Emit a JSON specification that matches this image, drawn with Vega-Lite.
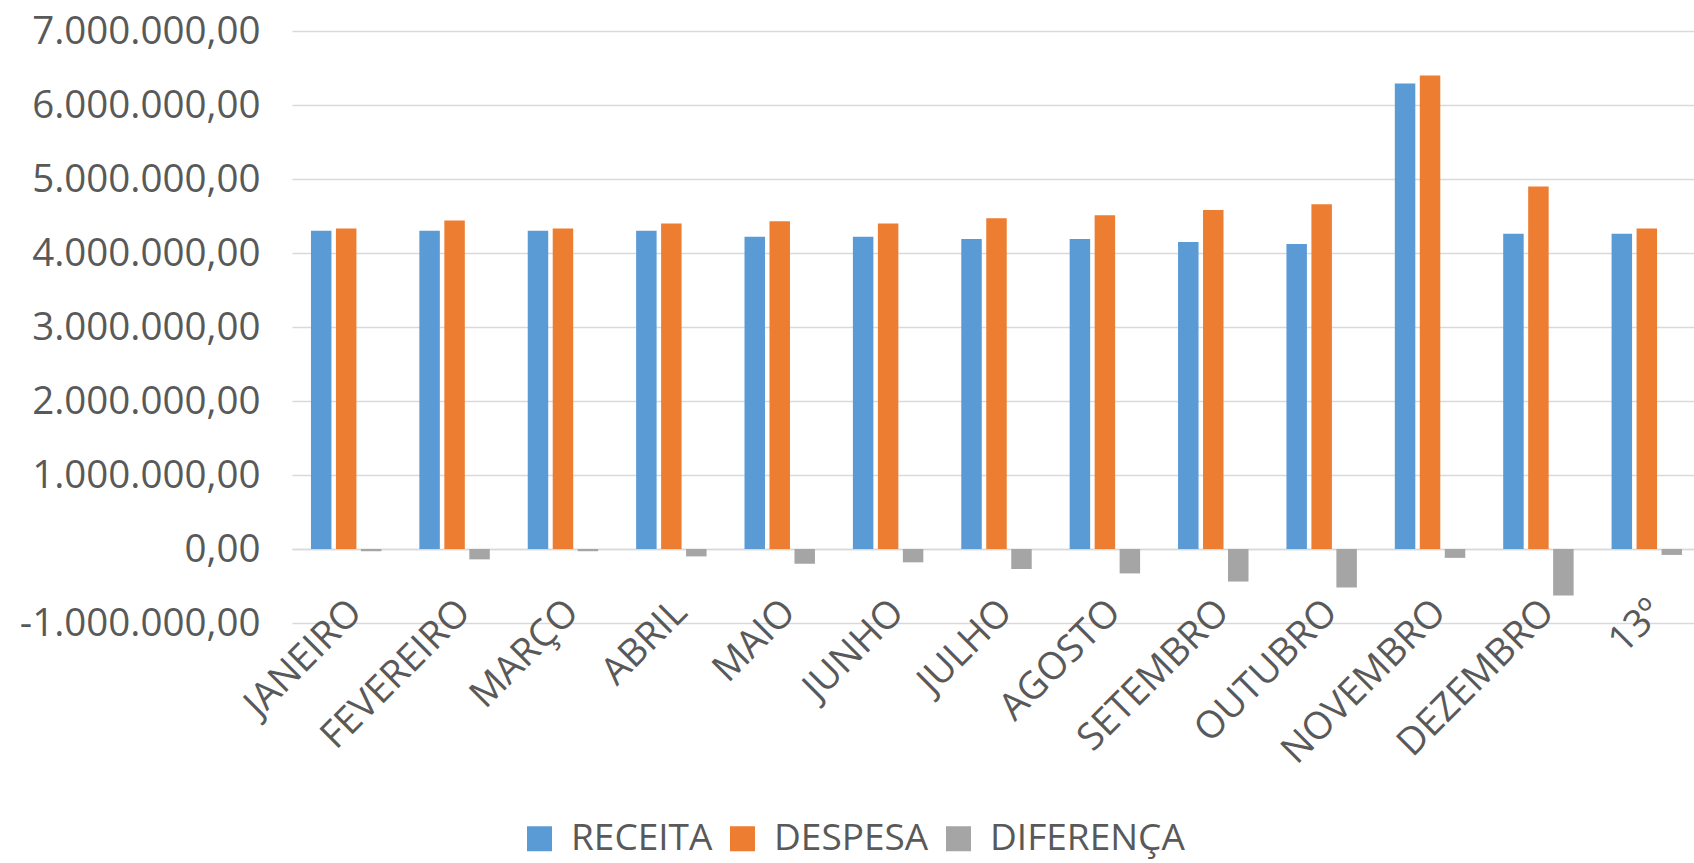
{
  "$schema": "https://vega.github.io/schema/vega-lite/v6.json",
  "autosize": {"type": "none"},
  "width": 1402,
  "height": 592,
  "padding": {"left": 292, "top": 31, "right": 0, "bottom": 240},
  "background": "white",
  "data": {
    "values": [
      {"mes": "JANEIRO", "serie": "RECEITA", "valor": 4300000},
      {"mes": "JANEIRO", "serie": "DESPESA", "valor": 4330000},
      {"mes": "JANEIRO", "serie": "DIFERENÇA", "valor": -30000},
      {"mes": "FEVEREIRO", "serie": "RECEITA", "valor": 4300000},
      {"mes": "FEVEREIRO", "serie": "DESPESA", "valor": 4440000},
      {"mes": "FEVEREIRO", "serie": "DIFERENÇA", "valor": -140000},
      {"mes": "MARÇO", "serie": "RECEITA", "valor": 4300000},
      {"mes": "MARÇO", "serie": "DESPESA", "valor": 4330000},
      {"mes": "MARÇO", "serie": "DIFERENÇA", "valor": -30000},
      {"mes": "ABRIL", "serie": "RECEITA", "valor": 4300000},
      {"mes": "ABRIL", "serie": "DESPESA", "valor": 4400000},
      {"mes": "ABRIL", "serie": "DIFERENÇA", "valor": -100000},
      {"mes": "MAIO", "serie": "RECEITA", "valor": 4220000},
      {"mes": "MAIO", "serie": "DESPESA", "valor": 4430000},
      {"mes": "MAIO", "serie": "DIFERENÇA", "valor": -200000},
      {"mes": "JUNHO", "serie": "RECEITA", "valor": 4220000},
      {"mes": "JUNHO", "serie": "DESPESA", "valor": 4400000},
      {"mes": "JUNHO", "serie": "DIFERENÇA", "valor": -180000},
      {"mes": "JULHO", "serie": "RECEITA", "valor": 4190000},
      {"mes": "JULHO", "serie": "DESPESA", "valor": 4470000},
      {"mes": "JULHO", "serie": "DIFERENÇA", "valor": -270000},
      {"mes": "AGOSTO", "serie": "RECEITA", "valor": 4190000},
      {"mes": "AGOSTO", "serie": "DESPESA", "valor": 4510000},
      {"mes": "AGOSTO", "serie": "DIFERENÇA", "valor": -330000},
      {"mes": "SETEMBRO", "serie": "RECEITA", "valor": 4150000},
      {"mes": "SETEMBRO", "serie": "DESPESA", "valor": 4580000},
      {"mes": "SETEMBRO", "serie": "DIFERENÇA", "valor": -440000},
      {"mes": "OUTUBRO", "serie": "RECEITA", "valor": 4120000},
      {"mes": "OUTUBRO", "serie": "DESPESA", "valor": 4660000},
      {"mes": "OUTUBRO", "serie": "DIFERENÇA", "valor": -520000},
      {"mes": "NOVEMBRO", "serie": "RECEITA", "valor": 6290000},
      {"mes": "NOVEMBRO", "serie": "DESPESA", "valor": 6400000},
      {"mes": "NOVEMBRO", "serie": "DIFERENÇA", "valor": -120000},
      {"mes": "DEZEMBRO", "serie": "RECEITA", "valor": 4260000},
      {"mes": "DEZEMBRO", "serie": "DESPESA", "valor": 4900000},
      {"mes": "DEZEMBRO", "serie": "DIFERENÇA", "valor": -630000},
      {"mes": "13º", "serie": "RECEITA", "valor": 4260000},
      {"mes": "13º", "serie": "DESPESA", "valor": 4330000},
      {"mes": "13º", "serie": "DIFERENÇA", "valor": -80000}
    ]
  },
  "mark": {"type": "bar"},
  "encoding": {
    "x": {
      "field": "mes",
      "type": "nominal",
      "sort": ["JANEIRO", "FEVEREIRO", "MARÇO", "ABRIL", "MAIO", "JUNHO", "JULHO", "AGOSTO", "SETEMBRO", "OUTUBRO", "NOVEMBRO", "DEZEMBRO", "13º"],
      "scale": {"range": [0, 1409], "paddingInner": 0.35, "paddingOuter": 0.175},
      "axis": {
        "title": null,
        "orient": "bottom",
        "offset": -74,
        "domain": true,
        "domainColor": "#d9d9d9",
        "domainWidth": 1.5,
        "ticks": false,
        "tickSize": 0,
        "labelAngle": -45,
        "labelAlign": "right",
        "labelBaseline": "middle",
        "labelPadding": 57,
        "labelOffset": 10,
        "labelFont": "Open Sans",
        "labelFontSize": 38,
        "labelColor": "#595959",
        "labelLimit": 500,
        "labelOverlap": false,
        "grid": false
      }
    },
    "xOffset": {
      "field": "serie",
      "type": "nominal",
      "sort": ["RECEITA", "DESPESA", "DIFERENÇA"],
      "scale": {"paddingInner": 0.18, "paddingOuter": 0}
    },
    "y": {
      "field": "valor",
      "type": "quantitative",
      "scale": {"domain": [-1000000, 7000000], "nice": false, "zero": false},
      "axis": {
        "title": null,
        "values": [-1000000, 0, 1000000, 2000000, 3000000, 4000000, 5000000, 6000000, 7000000],
        "format": ",.2f",
        "domain": false,
        "ticks": false,
        "labelPadding": 32,
        "labelFont": "Open Sans",
        "labelFontSize": 38.5,
        "labelColor": "#595959",
        "labelLimit": 500,
        "grid": true,
        "gridColor": "#d9d9d9",
        "gridWidth": 1.5
      }
    },
    "color": {
      "field": "serie",
      "type": "nominal",
      "sort": ["RECEITA", "DESPESA", "DIFERENÇA"],
      "scale": {"domain": ["RECEITA", "DESPESA", "DIFERENÇA"], "range": ["#5b9bd5", "#ed7d31", "#a5a5a5"]},
      "legend": {
        "title": null,
        "orient": "none",
        "direction": "horizontal",
        "legendX": 229,
        "legendY": 789,
        "padding": 0,
        "symbolType": "square",
        "symbolSize": 625,
        "symbolStrokeWidth": 0,
        "symbolOpacity": 1,
        "labelFont": "Open Sans",
        "labelFontSize": 37,
        "labelColor": "#595959",
        "labelOffset": 13,
        "columnPadding": 11,
        "labelLimit": 500
      }
    }
  },
  "config": {
    "locale": {
      "number": {"decimal": ",", "thousands": ".", "grouping": [3], "currency": ["R$ ", ""], "minus": "-"}
    },
    "view": {"stroke": null},
    "axis": {"labelFont": "Open Sans"}
  }
}
